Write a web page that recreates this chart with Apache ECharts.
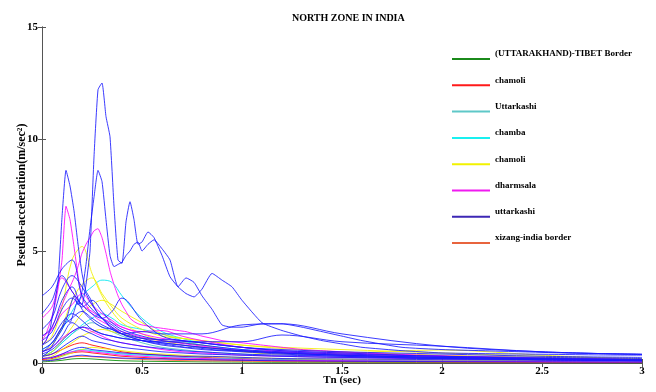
<!DOCTYPE html>
<html>
<head>
<meta charset="utf-8">
<script src="https://cdn.jsdelivr.net/npm/echarts@6/dist/echarts.min.js"></script>
<style>html,body{margin:0;padding:0;background:#fff}#c{width:656px;height:392px}</style>
</head>
<body>
<div id="c"></div>
<script>
// ---- Data ----
const chartTitle = 'NORTH ZONE IN INDIA';
const xName = 'Tn (sec)';
const yName = 'Pseudo-acceleration(m/sec\u00B2)';
const xTicks = [0, 0.5, 1, 1.5, 2, 2.5, 3];
const yTicks = [0, 5, 10, 15];
const legendNames = ['(UTTARAKHAND)-TIBET Border', 'chamoli', 'Uttarkashi', 'chamba', 'chamoli ', 'dharmsala', 'uttarkashi', 'xizang-india border'];

// fine period grid (sec)
const P1 = [0,0.02,0.04,0.06,0.08,0.10,0.12,0.14,0.16,0.18,0.20,0.22,0.24,0.26,0.28,0.30,0.32,0.34,0.36,0.38,0.40,0.42,0.44,0.46,0.48,0.50,0.53,0.56,0.60,0.64,0.68,0.72,0.76,0.80,0.85,0.90,0.95,1.0,1.1,1.2,1.3,1.4,1.5,1.6,1.8,2.0,2.2,2.4,2.6,2.8,3.0];
// coarse period grid (sec)
const P2 = [0,0.05,0.1,0.15,0.2,0.25,0.3,0.35,0.4,0.5,0.6,0.7,0.8,1.0,1.2,1.5,2.0,2.5,3.0];

// uttarkashi (large records) on P1
const U1 = [0.5,0.6,0.8,1.0,1.3,1.6,2.0,1.8,2.3,2.8, 2.6,3.5,5.0,9.2,12.2,12.5,11.0,10.1,7.0,4.6, 4.45,6.3,7.2,6.4,5.3,5.4, 5.85,5.6, 4.8,3.85,3.4,3.1,2.95,3.3, 4.0,3.7,3.4,2.8, 1.8,1.45,1.2,1.0,0.85,0.7, 0.55,0.45,0.42,0.4,0.38,0.36,0.35];
const U2 = [0.3,0.4,0.6,0.9,1.2,1.5,1.9,2.5,3.0,2.6, 3.2,4.4,6.0,7.4,8.6,8.1,6.4,4.8,4.3,4.4, 4.5,4.8,5.0,5.3,5.4,5.0, 5.3,5.5, 5.1,4.6,3.4,3.8,3.6,3.0, 2.4,1.7,1.6,1.6, 1.75,1.75,1.6,1.4,1.2,1.0, 0.7,0.6,0.55,0.5,0.45,0.42,0.4];
const U3 = [0.8,1.0,1.5,2.5,3.6,6.5,8.6,7.9,6.8,5.3, 4.0,3.2,2.9,2.5,2.2,2.0,1.8,1.6,1.5,1.4, 1.3,1.2,1.15,1.1,1.05,1.0, 0.95,0.9, 0.85,0.8,0.75,0.7,0.68,0.65, 0.6,0.57,0.55,0.52, 0.48,0.44,0.4,0.37,0.34,0.31, 0.27,0.24,0.21,0.19,0.17,0.15,0.13];
// dharmsala (large records) on P1
const M1 = [1.0,1.3,1.8,2.4,3.3,4.6,7.0,6.4,5.2,3.9, 2.9,2.6,2.3,2.1,1.95,1.85,1.75,1.65,1.55,1.45, 1.4,1.35,1.3,1.25,1.2,1.15, 1.1,1.05, 1.0,0.95,0.9,0.85,0.8,0.75, 0.7,0.65,0.6,0.57, 0.52,0.47,0.43,0.4,0.37,0.34, 0.29,0.25,0.22,0.2,0.18,0.16,0.14];
const M2 = [0.8,1.0,1.4,1.8,2.2,2.6,3.0,3.4,3.8,4.3, 4.9,5.3,5.6,5.9,6.0,5.6,4.9,4.1,3.5,3.0, 2.6,2.3,2.0,1.85,1.75,1.7, 1.65,1.6, 1.55,1.5,1.45,1.4,1.3,1.2, 1.1,1.0,0.95,0.9, 0.8,0.7,0.6,0.55,0.5,0.45, 0.38,0.32,0.28,0.24,0.2,0.18,0.15];

// uttarkashi (other records) on P2
const B1 = [3.0,3.4,4.2,4.6,3.0,2.4,2.0,1.7,1.4,1.1,0.9,0.8,0.7,0.55,0.45,0.35,0.25,0.2,0.15];
const B2 = [2.2,2.8,3.9,3.2,2.6,2.2,2.0,2.3,2.9,1.9,1.2,1.0,0.9,0.7,0.55,0.45,0.3,0.25,0.2];
const B3 = [1.5,2.0,3.3,3.9,3.4,2.6,2.0,1.6,1.3,1.0,0.8,0.7,0.6,0.5,0.4,0.3,0.2,0.15,0.1];
const B4 = [1.0,1.4,2.4,2.9,2.5,2.8,2.3,1.8,1.5,1.2,1.0,0.9,0.8,0.6,0.5,0.4,0.3,0.2,0.15];
const B5 = [0.6,0.9,1.6,2.0,2.3,2.0,1.7,1.5,1.3,1.4,1.3,1.3,1.3,1.7,1.75,1.3,0.75,0.5,0.38];
const B6 = [0.5,0.7,1.2,1.8,1.5,1.3,1.1,1.0,0.9,0.75,0.65,0.55,0.5,0.4,0.35,0.3,0.2,0.15,0.12];
const B7 = [0.3,0.4,0.7,1.0,1.2,1.0,0.9,0.8,0.7,0.6,0.5,0.45,0.4,0.35,0.3,0.25,0.2,0.15,0.1];
const B8 = [0.2,0.25,0.4,0.6,0.7,0.6,0.55,0.5,0.45,0.4,0.35,0.3,0.3,0.25,0.2,0.18,0.15,0.12,0.1];
const B9 = [0.1,0.12,0.2,0.3,0.35,0.3,0.28,0.25,0.22,0.2,0.18,0.16,0.15,0.12,0.1,0.08,0.06,0.05,0.04];
const B10 = [0.8,1.1,1.8,2.2,1.9,1.5,1.3,1.2,1.1,1.0,0.9,0.8,0.7,0.55,0.45,0.35,0.25,0.2,0.15];
const B11 = [1.2,1.6,2.8,3.4,2.4,1.9,1.6,1.5,1.3,1.1,1.05,1.0,0.9,0.7,0.6,0.5,0.4,0.3,0.25];
const B12 = [0.4,0.6,1.0,1.4,1.6,1.5,1.3,1.2,1.1,1.0,0.95,0.95,0.95,0.95,1.25,0.95,0.75,0.5,0.38];
// dharmsala (other) on P2
const D1 = [2.0,2.5,3.8,3.2,2.6,2.3,2.0,1.8,1.6,1.3,1.1,1.0,0.9,0.7,0.55,0.45,0.3,0.2,0.15];
const D2 = [1.2,1.5,2.2,2.6,3.1,2.6,2.2,1.9,1.6,1.4,1.45,1.2,1.0,0.7,0.5,0.4,0.3,0.2,0.15];
const D3 = [0.5,0.7,1.1,1.4,1.6,1.4,1.2,1.0,0.9,0.75,0.6,0.5,0.45,0.35,0.3,0.25,0.18,0.14,0.1];
const D4 = [0.2,0.25,0.4,0.5,0.55,0.5,0.45,0.4,0.35,0.3,0.25,0.22,0.2,0.15,0.12,0.1,0.08,0.06,0.05];
// chamoli (yellow) on P2
const Y1 = [0.8,1.2,2.5,4.6,5.2,4.0,3.0,2.3,1.8,1.3,1.0,0.8,0.7,0.55,0.45,0.35,0.25,0.18,0.12];
const Y2 = [0.5,0.8,1.6,2.8,3.5,3.8,3.1,2.5,2.0,1.5,1.2,1.1,1.0,0.8,0.65,0.5,0.35,0.25,0.2];
const Y3 = [0.3,0.5,1.0,1.6,2.2,2.6,2.8,2.6,2.3,1.8,1.3,1.1,1.0,0.8,0.7,0.6,0.45,0.3,0.2];
const Y4 = [0.2,0.3,0.6,0.9,1.2,1.4,1.5,1.4,1.3,1.1,1.0,0.9,0.8,0.5,0.4,0.45,0.58,0.35,0.15];
const Y5 = [0.1,0.15,0.3,0.45,0.6,0.7,0.65,0.6,0.55,0.45,0.4,0.35,0.3,0.25,0.2,0.17,0.14,0.12,0.1];
// chamba (cyan) on P2
const C1 = [0.6,0.9,1.5,2.3,3.0,3.4,3.7,3.6,3.0,2.0,1.4,1.1,0.9,0.7,0.55,0.4,0.3,0.2,0.15];
const C2 = [0.3,0.5,0.9,1.3,1.7,2.0,2.2,2.0,1.7,1.5,1.3,1.0,0.8,0.6,0.5,0.4,0.3,0.2,0.15];
const C3 = [0.1,0.15,0.3,0.5,0.6,0.55,0.5,0.45,0.4,0.35,0.3,0.25,0.22,0.18,0.15,0.12,0.1,0.08,0.06];
// Uttarkashi (teal) on P2
const T1 = [0.3,0.5,0.9,1.3,1.6,1.8,1.6,1.4,1.2,0.9,0.7,0.6,0.5,0.4,0.3,0.25,0.2,0.15,0.1];
// chamoli (red) on P2
const R1 = [0.15,0.2,0.35,0.45,0.5,0.45,0.4,0.35,0.3,0.25,0.2,0.18,0.15,0.12,0.1,0.08,0.06,0.05,0.04];
const R2 = [0.3,0.4,0.6,0.8,0.9,0.8,0.7,0.6,0.5,0.4,0.35,0.3,0.25,0.2,0.15,0.12,0.09,0.07,0.05];
// (UTTARAKHAND)-TIBET Border (green) on P2
const G1 = [0.05,0.08,0.12,0.18,0.2,0.18,0.15,0.12,0.1,0.08,0.07,0.06,0.05,0.04,0.03,0.03,0.02,0.02,0.01];
// xizang-india border (orange) on P2
const O1 = [0.1,0.12,0.2,0.28,0.3,0.28,0.25,0.22,0.2,0.16,0.13,0.11,0.1,0.08,0.06,0.05,0.04,0.03,0.02];

// ---- Build ----
const FONT = 'Liberation Serif';
const plotColor = {
  '(UTTARAKHAND)-TIBET Border': '#009000',
  'chamoli': '#ff0000',
  'Uttarkashi': '#4cbfbf',
  'chamba': '#00e6f0',
  'chamoli ': '#f0f000',
  'dharmsala': '#ff00ff',
  'uttarkashi': '#1a1aff',
  'xizang-india border': '#ff6030'
};
const legendColor = {
  '(UTTARAKHAND)-TIBET Border': '#1b8a1b',
  'chamoli': '#ff1a1a',
  'Uttarkashi': '#5ec8c8',
  'chamba': '#19f0f0',
  'chamoli ': '#f2f200',
  'dharmsala': '#f01af0',
  'uttarkashi': '#3d27b5',
  'xizang-india border': '#e8643e'
};
const curveList = [
  ['(UTTARAKHAND)-TIBET Border', P2, G1],
  ['xizang-india border', P2, O1],
  ['chamoli', P2, R1], ['chamoli', P2, R2],
  ['Uttarkashi', P2, T1],
  ['chamba', P2, C3], ['chamba', P2, C2], ['chamba', P2, C1],
  ['chamoli ', P2, Y5], ['chamoli ', P2, Y4], ['chamoli ', P2, Y3], ['chamoli ', P2, Y2], ['chamoli ', P2, Y1],
  ['dharmsala', P2, D4], ['dharmsala', P2, D3], ['dharmsala', P2, D2], ['dharmsala', P2, D1],
  ['dharmsala', P1, M1], ['dharmsala', P1, M2],
  ['uttarkashi', P2, B9], ['uttarkashi', P2, B8], ['uttarkashi', P2, B7], ['uttarkashi', P2, B6],
  ['uttarkashi', P2, B10], ['uttarkashi', P2, B12], ['uttarkashi', P2, B5], ['uttarkashi', P2, B11],
  ['uttarkashi', P2, B4], ['uttarkashi', P2, B3], ['uttarkashi', P2, B2], ['uttarkashi', P2, B1],
  ['uttarkashi', P1, U3], ['uttarkashi', P1, U2], ['uttarkashi', P1, U1]
];
const series = curveList.map(([name, t, v]) => ({
  name: name,
  type: 'line',
  data: t.map((x, i) => [x, v[i]]),
  showSymbol: false,
  smooth: t === P1 ? 0.15 : 0.35,
  silent: true,
  lineStyle: { width: 1, color: plotColor[name], opacity: 0.85 },
  itemStyle: { color: legendColor[name] },
  animation: false
}));

const chart = echarts.init(document.getElementById('c'), null, { renderer: 'canvas' });
const axisLine = { show: true, lineStyle: { color: '#555', width: 1 } };
chart.setOption({
  backgroundColor: '#fff',
  animation: false,
  title: {
    text: chartTitle, left: 287, top: 8,
    textStyle: { fontFamily: FONT, fontWeight: 'bold', fontSize: 10, color: '#000' }
  },
  legend: {
    data: legendNames.map(n => ({ name: n, itemStyle: { color: legendColor[n] } })),
    orient: 'vertical', left: 452, top: 48, padding: 0,
    itemWidth: 38, itemHeight: 12, itemGap: 14.3,
    icon: 'path://M0,0L38,0L38,0L0,0ZM0,10L38,10L38,12L0,12Z',
    selectedMode: false,
    textStyle: { fontFamily: FONT, fontWeight: 'bold', fontSize: 9, color: '#000', lineHeight: 12 }
  },
  grid: { left: 42, right: 14, top: 27, bottom: 29, containLabel: false, outerBoundsMode: 'none' },
  xAxis: [{
    type: 'value', min: xTicks[0], max: xTicks[xTicks.length - 1], interval: 0.5,
    position: 'bottom',
    name: xName, nameLocation: 'middle', nameGap: 12, nameMoveOverlap: false,
    nameTextStyle: { fontFamily: FONT, fontWeight: 'bold', fontSize: 11, color: '#000' },
    axisLine: axisLine,
    axisTick: { show: true, inside: true, length: 4, lineStyle: { color: '#555' } },
    axisLabel: { fontFamily: FONT, fontWeight: 'bold', fontSize: 11, color: '#000', margin: 3 },
    splitLine: { show: false }
  }, {
    type: 'value', min: xTicks[0], max: xTicks[xTicks.length - 1], interval: 0.5,
    position: 'top',
    axisLine: axisLine,
    axisTick: { show: true, inside: true, length: 4, lineStyle: { color: '#555' } },
    axisLabel: { show: false }, splitLine: { show: false }
  }],
  yAxis: [{
    type: 'value', min: yTicks[0], max: yTicks[yTicks.length - 1], interval: 5,
    position: 'left',
    name: yName, nameLocation: 'middle', nameGap: 14, nameMoveOverlap: false,
    nameTextStyle: { fontFamily: FONT, fontWeight: 'bold', fontSize: 12, color: '#000' },
    axisLine: axisLine,
    axisTick: { show: true, inside: true, length: 4, lineStyle: { color: '#555' } },
    axisLabel: { fontFamily: FONT, fontWeight: 'bold', fontSize: 11, color: '#000', margin: 4 },
    splitLine: { show: false }
  }, {
    type: 'value', min: yTicks[0], max: yTicks[yTicks.length - 1], interval: 5,
    position: 'right',
    axisLine: axisLine,
    axisTick: { show: true, inside: true, length: 4, lineStyle: { color: '#555' } },
    axisLabel: { show: false }, splitLine: { show: false }
  }],
  series: series
});
</script>
</body>
</html>
